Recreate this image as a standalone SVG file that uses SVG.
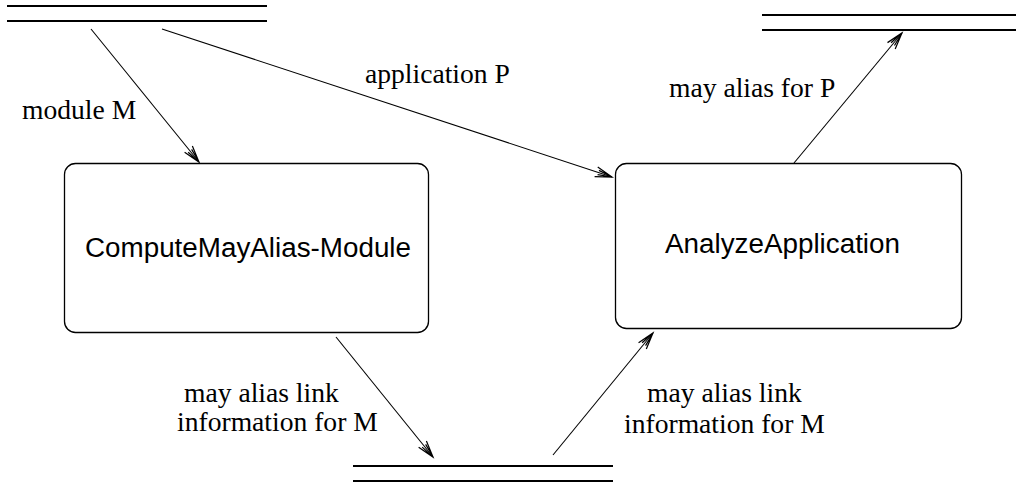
<svg xmlns="http://www.w3.org/2000/svg" width="1016" height="483" viewBox="0 0 1016 483">
<defs>
<style>
.store{stroke:#000;stroke-width:2.2;fill:none}
.box{fill:#fff;stroke:#000;stroke-width:1.3}
.conn{stroke:#000;stroke-width:1.1;fill:none;marker-end:url(#ah)}
.lbl{font-family:"Liberation Serif","Times New Roman",serif;font-size:27.6px;fill:#000}
.nlbl{font-family:"Liberation Sans",Arial,sans-serif;font-size:27px;fill:#000}
</style>
<marker id="ah" markerUnits="userSpaceOnUse" markerWidth="20" markerHeight="20" refX="0" refY="0" viewBox="-16 -8 18 16" orient="auto" overflow="visible">
<path d="M-15,-4.5 L0,0 L-15,4.5 M-13,-2 L0,0 L-13,2" fill="none" stroke="#000" stroke-width="1.1"/>
</marker>
</defs>
<rect width="1016" height="483" fill="#fff"/>
<g id="store-top-left">
<line class="store" x1="7" y1="6" x2="267" y2="6"/>
<line class="store" x1="7" y1="21" x2="267" y2="21"/>
</g>
<g id="store-top-right">
<line class="store" x1="762" y1="15" x2="1016" y2="15"/>
<line class="store" x1="762" y1="30" x2="1016" y2="30"/>
</g>
<g id="store-bottom">
<line class="store" x1="353" y1="466" x2="613" y2="466"/>
<line class="store" x1="353" y1="481" x2="613" y2="481"/>
</g>
<g id="node-compute">
<rect class="box" x="64.5" y="163.5" width="364" height="169" rx="11"/>
<text class="nlbl" x="85" y="257" textLength="326" lengthAdjust="spacingAndGlyphs">ComputeMayAlias-Module</text>
</g>
<g id="node-analyze">
<rect class="box" x="615.5" y="163.5" width="346" height="165" rx="11"/>
<text class="nlbl" x="665" y="253" textLength="235" lengthAdjust="spacingAndGlyphs">AnalyzeApplication</text>
</g>
<g id="connectors">
<line class="conn" x1="91" y1="29" x2="199" y2="162"/>
<line class="conn" x1="162" y1="29" x2="612" y2="177"/>
<line class="conn" x1="794" y1="163" x2="902" y2="33"/>
<line class="conn" x1="336" y1="337" x2="433" y2="457"/>
<line class="conn" x1="553" y1="455" x2="653" y2="333"/>
</g>
<g id="labels">
<text class="lbl" x="22" y="119">module M</text>
<text class="lbl" x="365" y="83">application P</text>
<text class="lbl" x="669" y="97">may alias for P</text>
<text class="lbl" x="184" y="402">may alias link</text>
<text class="lbl" x="177" y="431">information for M</text>
<text class="lbl" x="647" y="402">may alias link</text>
<text class="lbl" x="624" y="433">information for M</text>
</g>
</svg>
